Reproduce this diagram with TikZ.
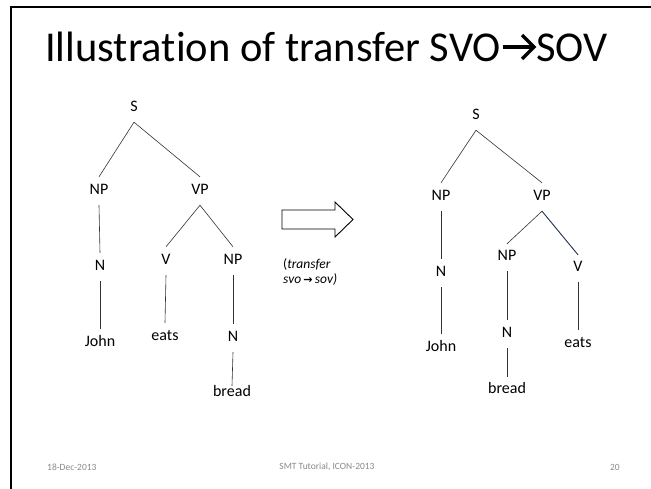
\documentclass[tikz,border=0pt]{standalone}
\usepackage{fontspec}
\usetikzlibrary{calc}
\setmainfont{Carlito}[Ligatures={NoCommon}]
\newfontfamily\symbold{DejaVu Sans Bold}
\definecolor{footgray}{HTML}{8A8A8A}
\definecolor{edgegray}{HTML}{333333}
\definecolor{edgeblue}{HTML}{1F3050}
\begin{document}
\begin{tikzpicture}[x=1pt,y=-1pt,
  lbl/.style={inner sep=0pt, minimum height=28pt, text height=10.5pt, text depth=3pt,
              font=\fontsize{16}{18}\selectfont},
  edge/.style={draw=edgegray, line width=0.6pt},
  titletext/.style={inner sep=0pt, font=\fontsize{42.5}{47}\selectfont},
  foot/.style={text=footgray, font=\fontsize{9.5}{11}\selectfont, inner sep=0pt}
]
\useasboundingbox (0,0) rectangle (651,488);
\fill[white] (0,0) rectangle (651,488);

% slide frame (top and left edges)
\draw[line width=2pt, line cap=rect] (11,488) -- (11,7) -- (651,7);

% title, with a heavy chevron arrow between its two halves
\node[titletext, anchor=base east] (title) at (501,61) {Illustration of transfer SVO};
\node[titletext, anchor=base west] (title2) at (536,61) {SOV};
\draw[line width=3.3pt, line join=miter, miter limit=4]
  ($(title.base east)+(2,-14)$) -- ($(title2.base west)+(-2,-14)$);
\draw[line width=3.3pt, line join=miter, miter limit=4]
  ($(title2.base west)+(-14,-26)$) -- ($(title2.base west)+(-2,-14)$) -- ($(title2.base west)+(-14,-2)$);

% source tree (SVO)
\node[lbl] (lS)   at (134,108) {S};
\node[lbl] (lNP)  at (99,191)  {NP};
\node[lbl] (lVP)  at (200,191) {VP};
\node[lbl] (lN1)  at (100,267) {N};
\node[lbl] (lJ)   at (100,343) {John};
\node[lbl] (lV)   at (166,261) {V};
\node[lbl] (lNP2) at (233,261) {NP};
\node[lbl] (leat) at (165,337) {eats};
\node[lbl] (lN2)  at (233,338) {N};
\node[lbl] (lbr)  at (232,393) {bread};

\draw[edge] (lS.south) -- (lNP.north);
\draw[edge] (lS.south) -- (lVP.north);
\draw[edge] (lNP.south) -- (lN1.north);
\draw[edge] (lN1.south) -- (lJ.north);
\draw[edge] (lVP.south) -- (lV.north);
\draw[edge] (lVP.south) -- (lNP2.north);
\draw[edge] (lV.south) -- (leat.north);
\draw[edge] (lNP2.south) -- (lN2.north);
\draw[edge] (lN2.south) -- ([yshift=-7pt]lbr.north);

% block arrow between the trees
\draw[line width=0.9pt, line join=miter]
  (282,210) -- (335,210) -- (335,202) -- (353,219.5) -- (335,237) -- (335,229) -- (282,229) -- cycle;
\node[inner sep=0pt, anchor=north west, align=left,
      font=\fontsize{13.5}{15}\selectfont] (tlabel) at (283,258)
  {(\textit{transfer}\\\textit{svo\,}{\symbold\fontsize{11}{13}\selectfont→}\,\textit{sov)}};

% target tree (SOV)
\node[lbl] (rS)   at (476,116) {S};
\node[lbl] (rNP)  at (441,197) {NP};
\node[lbl] (rVP)  at (542,197) {VP};
\node[lbl] (rN1)  at (441,273) {N};
\node[lbl] (rJ)   at (441,348) {John};
\node[lbl] (rNP2) at (507,257) {NP};
\node[lbl] (rV)   at (578,268) {V};
\node[lbl] (rN2)  at (507,334) {N};
\node[lbl] (rbr)  at (507,390) {bread};
\node[lbl] (reat) at (578,344) {eats};

\draw[edge] (rS.south) -- (rNP.north);
\draw[edge] (rS.south) -- (rVP.north);
\draw[edge] (rNP.south) -- (rN1.north);
\draw[edge] (rN1.south) -- (rJ.north);
\draw[edge] (rVP.south) -- ([yshift=-1pt]rNP2.north);
\draw[draw=edgeblue, line width=0.9pt] (rVP.south) -- ([yshift=-1pt]rV.north);
\draw[edge] (rNP2.south) -- (rN2.north);
\draw[edge] (rN2.south) -- ([yshift=-1pt]rbr.north);
\draw[edge] (rV.south) -- (reat.north);

% footer
\node[foot, anchor=west] (date) at (47,467) {18-Dec-2013};
\node[foot] (event) at (327,467) {SMT Tutorial, ICON-2013};
\node[foot, anchor=east] (page) at (620,467) {20};
\end{tikzpicture}
\end{document}
